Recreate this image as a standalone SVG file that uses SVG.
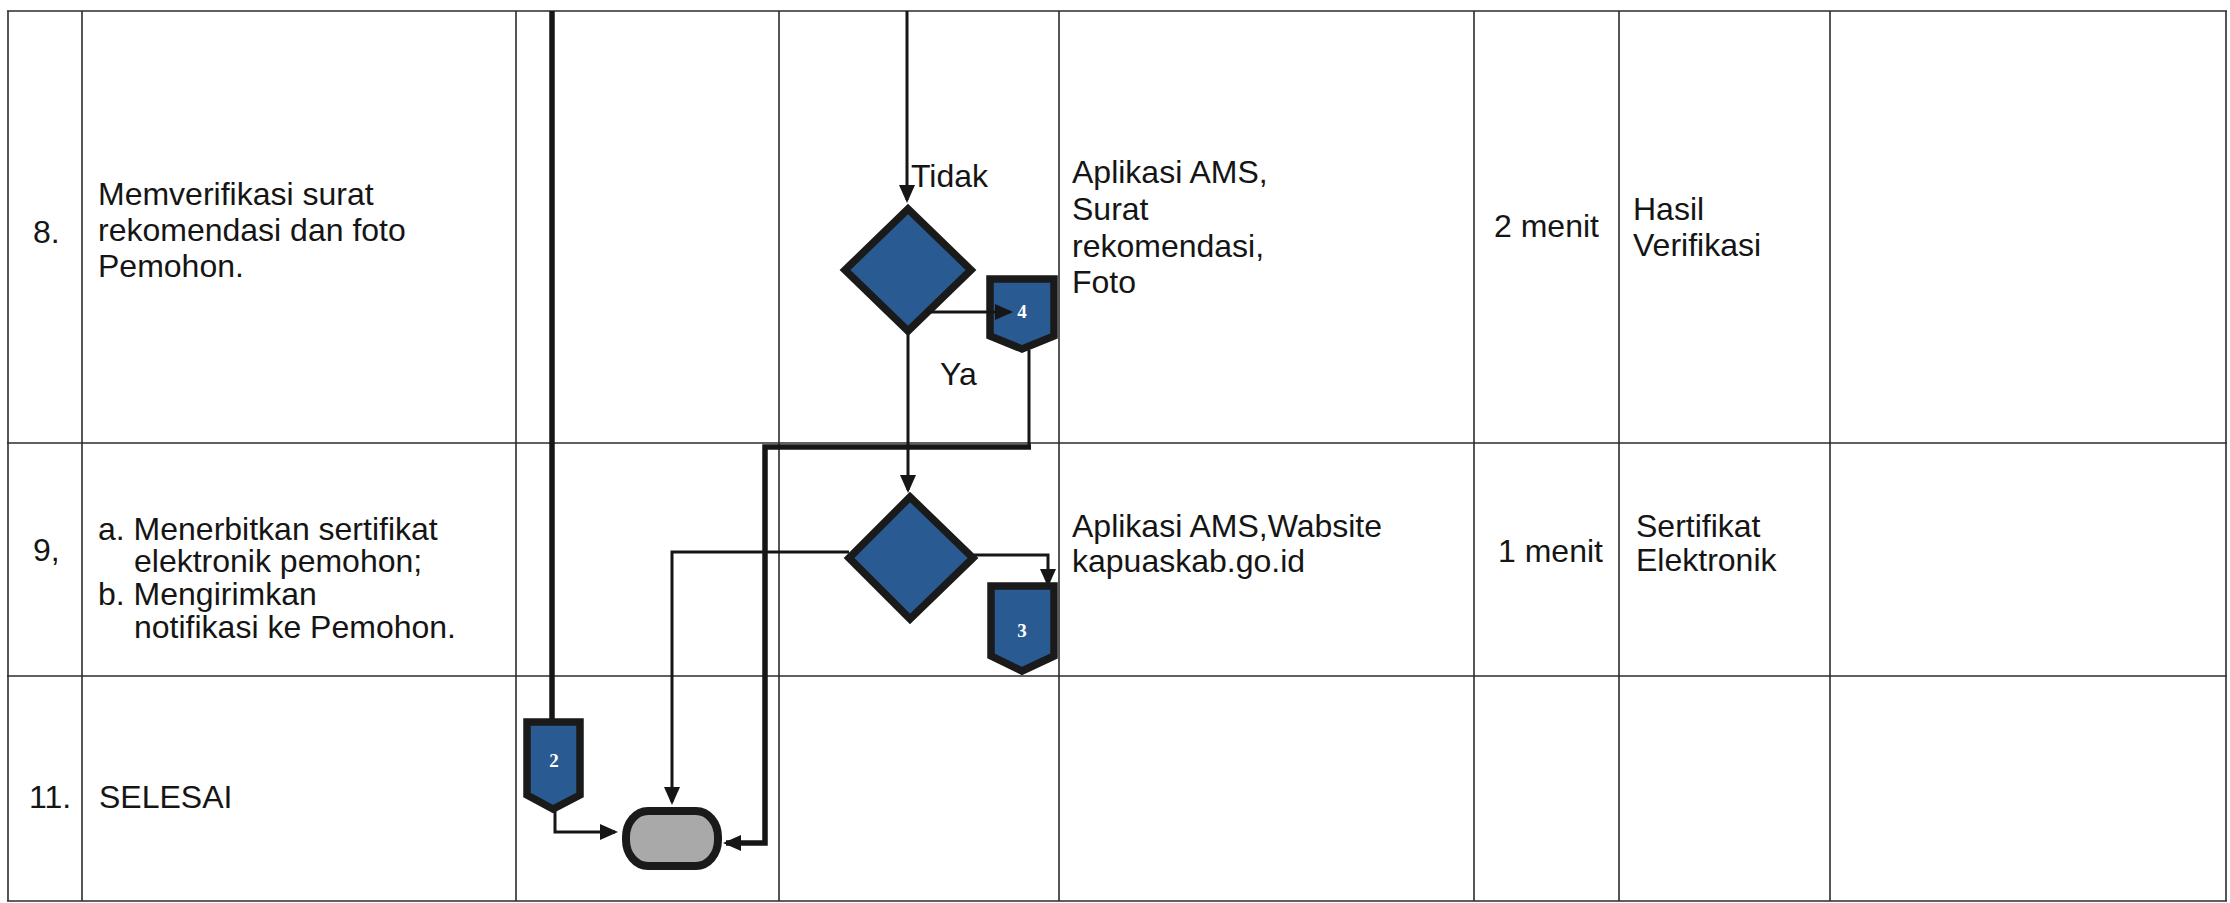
<svg xmlns="http://www.w3.org/2000/svg" width="2230" height="903" viewBox="0 0 2230 903">
  <style>
    .grid { stroke: #2b2b2b; stroke-width: 1.6; fill: none; }
    .t { font-family: "Liberation Sans", Arial, sans-serif; font-size: 32px; fill: #151515; }
    .num { font-family: "Liberation Serif", "Times New Roman", serif; font-size: 19px; font-weight: bold; fill: #ffffff; text-anchor: middle; }
    .shape { fill: #2a5a92; stroke: #1a1a1a; stroke-width: 7.5; stroke-linejoin: miter; }
    .term { fill: #a9a9a9; stroke: #1a1a1a; stroke-width: 8; }
    .flow { fill: none; stroke: #161616; stroke-width: 3; }
    .thick { fill: none; stroke: #161616; stroke-width: 5.5; }
  </style>
  <defs>
    <marker id="arrow" markerUnits="userSpaceOnUse" markerWidth="18" markerHeight="16" refX="15" refY="8" orient="auto">
      <path d="M0,0 L18,8 L0,16 z" fill="#161616"/>
    </marker>
  </defs>

  <rect width="2230" height="903" fill="#ffffff"/>

  <!-- table grid -->
  <g id="table">
    <line class="grid" x1="7" y1="11" x2="2227" y2="11"/>
    <line class="grid" x1="7" y1="443" x2="2227" y2="443"/>
    <line class="grid" x1="7" y1="676" x2="2227" y2="676"/>
    <line class="grid" x1="7" y1="901" x2="2227" y2="901"/>
    <line class="grid" x1="8" y1="11" x2="8" y2="901"/>
    <line class="grid" x1="82" y1="11" x2="82" y2="901"/>
    <line class="grid" x1="516" y1="11" x2="516" y2="901"/>
    <line class="grid" x1="779" y1="11" x2="779" y2="901"/>
    <line class="grid" x1="1059" y1="11" x2="1059" y2="901"/>
    <line class="grid" x1="1474" y1="11" x2="1474" y2="901"/>
    <line class="grid" x1="1619" y1="11" x2="1619" y2="901"/>
    <line class="grid" x1="1830" y1="11" x2="1830" y2="901"/>
    <line class="grid" x1="2226" y1="11" x2="2226" y2="901"/>
  </g>

  <!-- row texts -->
  <g id="row8-text">
    <text class="t" x="33" y="243">8.</text>
    <text class="t" x="98" y="205">Memverifikasi surat</text>
    <text class="t" x="98" y="241">rekomendasi dan foto</text>
    <text class="t" x="98" y="277">Pemohon.</text>
    <text class="t" x="1072" y="183">Aplikasi AMS,</text>
    <text class="t" x="1072" y="220">Surat</text>
    <text class="t" x="1072" y="257">rekomendasi,</text>
    <text class="t" x="1072" y="293">Foto</text>
    <text class="t" x="1494" y="237">2 menit</text>
    <text class="t" x="1633" y="220">Hasil</text>
    <text class="t" x="1633" y="256">Verifikasi</text>
  </g>
  <g id="row9-text">
    <text class="t" x="33" y="561">9,</text>
    <text class="t" x="98" y="540">a. Menerbitkan sertifikat</text>
    <text class="t" x="134" y="572">elektronik pemohon;</text>
    <text class="t" x="98" y="605">b. Mengirimkan</text>
    <text class="t" x="134" y="638">notifikasi ke Pemohon.</text>
    <text class="t" x="1072" y="537">Aplikasi AMS,Wabsite</text>
    <text class="t" x="1072" y="572">kapuaskab.go.id</text>
    <text class="t" x="1498" y="562">1 menit</text>
    <text class="t" x="1636" y="537">Sertifikat</text>
    <text class="t" x="1636" y="571">Elektronik</text>
  </g>
  <g id="row11-text">
    <text class="t" x="29" y="808">11.</text>
    <text class="t" x="99" y="808">SELESAI</text>
  </g>

  <!-- connectors -->
  <g id="connectors">
    <line class="thick" x1="552" y1="11" x2="552" y2="721"/>
    <line class="flow" x1="907" y1="11" x2="907" y2="200" stroke-width="4" marker-end="url(#arrow)"/>
    <line class="flow" x1="908" y1="333" x2="908" y2="490" marker-end="url(#arrow)"/>
    <path class="flow" d="M1029,350 L1029,447"/>
    <path class="thick" d="M1031,447 L765,447 L765,843 L726,843" marker-end="url(#arrow)"/>
    <path class="flow" d="M849,552 L672,552 L672,802" marker-end="url(#arrow)"/>
    <path class="flow" d="M974,555 L1048,555 L1048,584" marker-end="url(#arrow)"/>
    <path class="flow" d="M555,808 L555,832 L615,832" marker-end="url(#arrow)"/>
  </g>

  <!-- flow nodes -->
  <g id="decision-verify">
    <polygon class="shape" points="908,209 971,270 908,331 845,270"/>
  </g>
  <g id="decision-issue">
    <polygon class="shape" points="910,497 973,558 910,619 849,558"/>
  </g>
  <g id="offpage-4">
    <polygon class="shape" points="990,279 1054,279 1054,336 1022,349 990,336"/>
    <text class="num" x="1022" y="318">4</text>
  </g>
  <g id="offpage-3">
    <polygon class="shape" points="991,586 1054,586 1054,656 1022,671 991,656"/>
    <text class="num" x="1022" y="637">3</text>
  </g>
  <g id="offpage-2">
    <polygon class="shape" points="527,722 580,722 580,795 553,809 527,795"/>
    <text class="num" x="554" y="767">2</text>
  </g>
  <g id="end">
    <rect class="term" x="626" y="811" width="92" height="55" rx="22" ry="26"/>
  </g>

  <!-- arrow drawn over the off-page marker -->
  <g id="connector-to-4">
    <line class="flow" x1="926" y1="312" x2="1010" y2="312" marker-end="url(#arrow)"/>
  </g>
  <text class="t" x="911" y="187">Tidak</text>
  <text class="t" x="940" y="385">Ya</text>
</svg>
